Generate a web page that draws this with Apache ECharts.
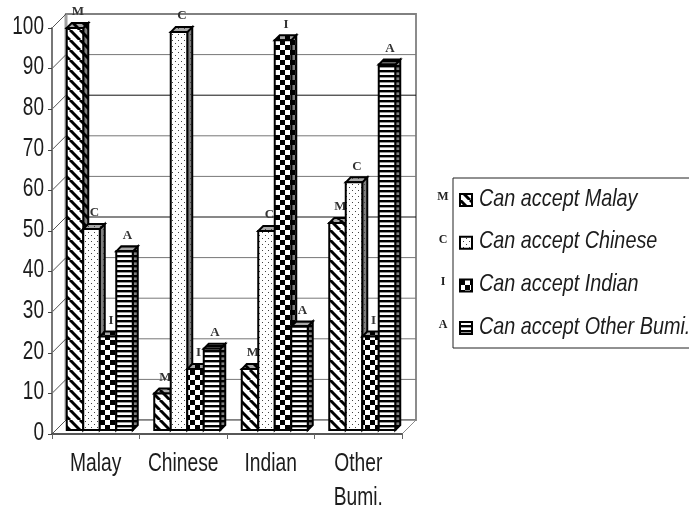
<!DOCTYPE html>
<html>
<head>
<meta charset="utf-8">
<style>html,body{margin:0;padding:0;background:#fff}#chart{width:689px;height:510px}</style>
<script src="https://cdn.jsdelivr.net/npm/echarts@6/dist/echarts.min.js"></script>
</head>
<body>
<div id="chart"></div>
<script>
// Acceptance of each ethnic group, drawn as hatched pseudo-3D columns.
const categories = ['Malay', 'Chinese', 'Indian', 'Other\nBumi.'];
const yTicks = [0, 10, 20, 30, 40, 50, 60, 70, 80, 90, 100];
const seriesNames = ['Can accept Malay', 'Can accept Chinese', 'Can accept Indian', 'Can accept Other Bumi.'];
const seriesLetters = ['M', 'C', 'I', 'A'];
const acceptMalay = [99, 9, 15, 51];
const acceptChinese = [49.5, 98, 49, 61];
const acceptIndian = [23, 15, 96, 23];
const acceptOtherBumi = [44, 20, 25.5, 90];
const seriesValues = [acceptMalay, acceptChinese, acceptIndian, acceptOtherBumi];

const WALL_DEPTH = 14, BAR_SHIFT = 4, BAR_DEPTH = 5, BAR_W = 16.5;
const BLACK_LINES = [50, 80];
const SANS = '"Liberation Sans", Arial, sans-serif';
const SERIF = '"Liberation Serif", serif';
const INK = '#1c1c1c';

function makeTile(size, bg, paint) {
  const c = document.createElement('canvas');
  c.width = c.height = size;
  const g = c.getContext('2d');
  g.fillStyle = bg;
  g.fillRect(0, 0, size, size);
  g.fillStyle = g.strokeStyle = '#000';
  paint(g, size);
  return { image: c, repeat: 'repeat' };
}
const painters = [
  { size: 10, draw(g, s) { g.lineWidth = 3; for (let o = -s; o <= s; o += s) { g.beginPath(); g.moveTo(o, 0); g.lineTo(o + s, s); g.stroke(); } } },
  { size: 6, draw(g) { g.fillStyle = '#444'; g.fillRect(1, 1, 1, 1); g.fillRect(4, 4, 1, 1); } },
  { size: 10, draw(g) { g.fillRect(0, 0, 5, 5); g.fillRect(5, 5, 5, 5); } },
  { size: 5, draw(g) { g.fillRect(0, 0, 5, 2.4); } }
];
const frontFills = painters.map(p => makeTile(p.size, '#fff', p.draw));
const sideFills = painters.map(p => makeTile(p.size, '#808080', p.draw));
const topFills = painters.map(p => makeTile(p.size, '#a8a8a8', p.draw));

function poly(points, fill, stroke, lineWidth) {
  return { type: 'polygon', shape: { points }, style: { fill, stroke, lineWidth } };
}

// Back wall, side wall and floor of the box behind the columns.
function renderWalls(params, api) {
  const y0 = api.coord([0, 0])[1];
  const y1 = api.coord([0, 100])[1];
  const c = params.coordSys;
  const x0 = c.x, x1 = c.x + c.width, d = WALL_DEPTH;
  const gray = '#8c8c8c';
  return { type: 'group', silent: true, children: [
    poly([[x0, y1], [x0 + d, y1 - d], [x0 + d, y0 - d], [x0, y0]], '#fff', gray, 1),
    poly([[x0 + d, y1 - d], [x1 + d, y1 - d], [x1 + d, y0 - d], [x0 + d, y0 - d]], '#fff', gray, 2),
    poly([[x0, y0], [x0 + d, y0 - d], [x1 + d, y0 - d], [x1, y0]], '#fff', gray, 1),
    { type: 'line', shape: { x1: x0 + d, y1: y1 - d, x2: x0 + d, y2: y0 - d }, style: { stroke: '#a0a0a0', lineWidth: 3 } }
  ] };
}

// One gridline per tick, plus the condensed tick label at the front of the axis.
function renderGrid(params, api) {
  const v = api.value(0);
  const y = api.coord([0, v])[1];
  const c = params.coordSys;
  const x0 = c.x, x1 = c.x + c.width, d = WALL_DEPTH;
  const color = BLACK_LINES.includes(v) ? '#111' : '#777';
  return { type: 'group', silent: true, children: [
    { type: 'line', shape: { x1: x0, y1: y, x2: x0 + d, y2: y - d }, style: { stroke: '#555', lineWidth: 1 } },
    { type: 'line', shape: { x1: x0 + d, y1: y - d, x2: x1 + d, y2: y - d }, style: { stroke: color, lineWidth: 1 } },
    { type: 'text', x: x0 - 8, y: y - 1, scaleX: 0.76,
      style: { text: String(v), align: 'right', verticalAlign: 'middle', fill: INK, font: '25px ' + SANS } }
  ] };
}

function renderCategoryLabel(params, api) {
  const i = api.value(0);
  const p = api.coord([i, 0]);
  return { type: 'text', silent: true, x: p[0], y: p[1] + 13, scaleX: 0.77,
    style: { text: categories[i], align: 'center', verticalAlign: 'top', fill: INK,
      lineHeight: 34, font: '25px ' + SANS } };
}

function renderColumn(s) {
  return function (params, api) {
    const cat = api.value(0), val = api.value(1);
    const top = api.coord([cat, val]);
    const base = api.coord([cat, 0]);
    const l = top[0] + BAR_SHIFT + (s - 2) * BAR_W;
    const r = l + BAR_W;
    const t = top[1] - BAR_SHIFT, b = base[1] - BAR_SHIFT, d = BAR_DEPTH;
    const w = 2;
    return { type: 'group', children: [
      poly([[r, t], [r + d, t - d], [r + d, b - d], [r, b]], sideFills[s], '#000', w),
      poly([[l, t], [l + d, t - d], [r + d, t - d], [r, t]], topFills[s], '#000', w),
      poly([[l, t], [r, t], [r, b], [l, b]], frontFills[s], '#000', w),
      { type: 'text', style: { text: seriesLetters[s], x: (l + r) / 2 + 3, y: t - 16,
        align: 'center', verticalAlign: 'middle', fill: '#333',
        font: 'bold 13px ' + SERIF } }
    ] };
  };
}

const columnSeries = seriesNames.map((name, s) => ({
  name, type: 'custom', coordinateSystem: 'cartesian2d', clip: false,
  z: 10 + s,
  renderItem: renderColumn(s),
  encode: { x: 0, y: 1 },
  data: seriesValues[s].map((v, i) => [i, v])
}));

// Legend box, built so the condensed italic captions can be scaled horizontally.
const LEGEND_X = 453, LEGEND_Y = 178, LEGEND_H = 170, LEGEND_ROW = 42.7, LEGEND_FIRST = 200;
const legendItems = [
  { type: 'rect', shape: { x: LEGEND_X, y: LEGEND_Y, width: 260, height: LEGEND_H },
    style: { fill: '#fff', stroke: '#222', lineWidth: 1 } }
];
seriesNames.forEach((name, i) => {
  const cy = LEGEND_FIRST + i * LEGEND_ROW;
  legendItems.push(
    { type: 'text', x: 443, y: cy - 3,
      style: { text: seriesLetters[i], align: 'center', verticalAlign: 'middle', fill: '#222', font: 'bold 12px ' + SERIF } },
    { type: 'rect', shape: { x: 460, y: cy - 6, width: 12, height: 12 },
      style: { fill: frontFills[i], stroke: '#000', lineWidth: 2 } },
    { type: 'text', x: 479, y: cy - 1, scaleX: 0.825,
      style: { text: name, align: 'left', verticalAlign: 'middle', fill: INK, font: 'italic 24px ' + SANS } }
  );
});

const chart = echarts.init(document.getElementById('chart'), null, { renderer: 'canvas' });
chart.setOption({
  animation: false,
  backgroundColor: '#fff',
  grid: { left: 52, right: 287, top: 28, bottom: 76, outerBoundsMode: 'none' },
  xAxis: {
    type: 'category', data: categories, boundaryGap: true, z: 20,
    axisLine: { lineStyle: { color: '#333', width: 1.5 } },
    axisTick: { show: true, alignWithLabel: false, length: 5, lineStyle: { color: '#666', width: 1 } },
    axisLabel: { show: false }
  },
  yAxis: {
    type: 'value', min: 0, max: 100, interval: 10, z: 20,
    splitLine: { show: false },
    axisLine: { show: true, lineStyle: { color: '#777', width: 2 } },
    axisTick: { show: true, length: 4, lineStyle: { color: '#444', width: 1 } },
    axisLabel: { show: false }
  },
  graphic: legendItems,
  series: [
    { type: 'custom', coordinateSystem: 'cartesian2d', clip: false, z: 1, silent: true,
      renderItem: renderWalls, data: [[0, 0]], encode: { x: 0, y: 1 } },
    { type: 'custom', coordinateSystem: 'cartesian2d', clip: false, z: 2, silent: true,
      renderItem: renderGrid, data: yTicks.map(v => [v]), encode: { y: 0 } },
    { type: 'custom', coordinateSystem: 'cartesian2d', clip: false, z: 3, silent: true,
      renderItem: renderCategoryLabel, data: categories.map((c, i) => [i]), encode: { x: 0 } },
    ...columnSeries
  ]
});
</script>
</body>
</html>
